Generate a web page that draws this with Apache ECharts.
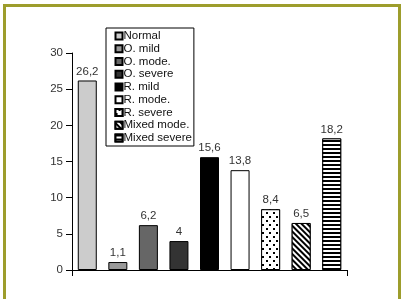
<!DOCTYPE html>
<html>
<head>
<meta charset="utf-8">
<script src="https://cdn.jsdelivr.net/npm/echarts@6/dist/echarts.min.js"></script>
<style>
  html, body { margin: 0; padding: 0; background: #fff; }
  #chart { width: 403px; height: 299px; }
</style>
</head>
<body>
<div id="chart"></div>
<script>
// groups and their percentages
var categories = ['Normal', 'O. mild', 'O. mode.', 'O. severe', 'R. mild', 'R. mode.', 'R. severe', 'Mixed mode.', 'Mixed severe'];
var values = [26.2, 1.1, 6.2, 4, 15.6, 13.8, 8.4, 6.5, 18.2];
var yTicks = [0, 5, 10, 15, 20, 25, 30];

var FONT = '"Liberation Sans", Arial, sans-serif';

// fill for each bar, same order as categories
var fills = [
  { color: '#cccccc' },
  { color: '#999999' },
  { color: '#666666' },
  { color: '#333333' },
  { color: '#000000' },
  { color: '#ffffff' },
  { color: '#ffffff', decal: { symbol: 'rect', symbolSize: 1, color: '#000', backgroundColor: '#fff',
      dashArrayX: [[1.3, 4.7], [0, 3, 1.3, 1.7]], dashArrayY: [1.3, 1.7] } },
  { color: '#ffffff', decal: { symbol: 'rect', symbolSize: 1, color: '#000', backgroundColor: '#fff',
      dashArrayX: [1, 0], dashArrayY: [1.2, 1.8], rotation: Math.PI / 4 } },
  { color: '#ffffff', decal: { symbol: 'rect', symbolSize: 1, color: '#000', backgroundColor: '#fff',
      dashArrayX: [1, 0], dashArrayY: [2, 1.6] } }
];

var chart = echarts.init(document.getElementById('chart'), null, { renderer: 'canvas' });

var series = categories.map(function (name, i) {
  var f = fills[i];
  var style = { color: f.color, borderColor: '#000', borderWidth: 1 };
  if (f.decal) style.decal = f.decal;
  return {
    name: name,
    type: 'bar',
    stack: 'all',
    barWidth: 19,
    data: values.map(function (v, j) { return j === i ? v : '-'; }),
    itemStyle: style,
    label: {
      show: true,
      position: 'top',
      distance: 3,
      color: '#333',
      fontFamily: FONT,
      fontSize: 11.5,
      formatter: function (p) { return String(p.value).replace('.', ','); }
    }
  };
});

var option = {
  animation: false,
  backgroundColor: '#fff',
  grid: { left: 72, top: 53, width: 275, height: 217, containLabel: false },
  legend: {
    orient: 'vertical',
    left: 106,
    top: 28,
    data: categories,
    icon: 'rect',
    itemWidth: 7,
    itemHeight: 7,
    itemGap: 0.75,
    padding: [2, 2, 2, 8.5],
    borderColor: '#000',
    borderWidth: 1,
    selectedMode: false,
    textStyle: { color: '#111', fontFamily: FONT, fontSize: 11.5, lineHeight: 12, padding: [0, 0, 0, -4] }
  },
  xAxis: {
    type: 'category',
    data: categories,
    axisLine: { lineStyle: { color: '#000', width: 1 } },
    axisTick: { show: true, length: 6, interval: function (i) { return i === 0; }, lineStyle: { color: '#000' } },
    axisLabel: { show: false }
  },
  yAxis: {
    type: 'value',
    min: yTicks[0],
    max: yTicks[yTicks.length - 1],
    interval: 5,
    splitLine: { show: false },
    axisLine: { show: true, lineStyle: { color: '#000', width: 1 } },
    axisTick: { show: true, length: 6, lineStyle: { color: '#000' } },
    axisLabel: { color: '#333', fontFamily: FONT, fontSize: 11.5, margin: 9 }
  },
  graphic: [{
    type: 'polyline',
    silent: true,
    shape: { points: [[4.5, 299], [4.5, 5.5], [399.5, 5.5], [399.5, 299]] },
    style: { stroke: '#9d9d2c', lineWidth: 3, fill: null }
  }],
  series: series
};

chart.setOption(option);
</script>
</body>
</html>
